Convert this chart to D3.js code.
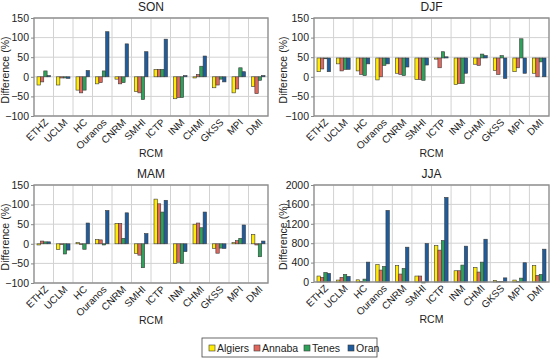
<!DOCTYPE html>
<html>
<head>
<meta charset="utf-8">
<script src="https://cdn.jsdelivr.net/npm/d3@7"></script>
<style>
  body { margin: 0; background: #fff; }
  svg text { font-family: "Liberation Sans", Arial, sans-serif; fill: #222; }
  .grid line { stroke: #d2d2d2; stroke-width: 1; }
  .axis .domain { display: none; }
  .axis line { stroke: #888; }
</style>
</head>
<body>
<div class="chart"></div>
<script>
const rcms = ["ETHZ", "UCLM", "HC", "Ouranos", "CNRM", "SMHI", "ICTP", "INM", "CHMI", "GKSS", "MPI", "DMI"];
const cities = ["Algiers", "Annaba", "Tenes", "Oran"];
const colors = ["#ffec00", "#e1675d", "#2ea25a", "#1e5c9d"];

// one row per city, one value per RCM
const son = [
  [-21, -21, -34, -18, -6, -38, 19, -56, -3, -28, -41, -25],
  [-13, -3, -41, -15, -18, -41, 19, -53, 6, -21, -31, -43],
  [15, -3, -34, 15, -15, -58, 19, -53, 27, -6, 23, -9],
  [3, -4, 16, 115, 84, 64, 96, 3, 53, -13, 13, 3]
];
const djf = [
  [13, 33, 15, -8, 9, -7, 45, -20, 32, 16, 13, 9],
  [20, 15, 6, 0, 6, -7, 23, -17, 29, 6, 23, 0],
  [46, 19, 3, 29, 3, -9, 64, -17, 58, 54, 97, 38],
  [13, 19, 33, 33, 25, 30, 51, 9, 54, -4, 9, 0]
];
const mam = [
  [-3, -15, 3, 11, 52, -25, 114, -50, 50, -12, 3, 24],
  [7, -2, -2, 10, 52, -29, 102, -47, 53, -24, 8, -3],
  [5, -26, -14, -3, 14, -61, 81, -50, 41, -11, 14, -33],
  [5, -16, 53, 85, 79, 26, 111, -20, 81, -12, 48, 7]
];
const jja = [
  [123, 40, 45, 362, 342, 123, 752, 232, 301, 35, 40, 342],
  [96, 96, 8, 246, 164, 123, 657, 232, 205, 10, 12, 137],
  [198, 157, 60, 322, 280, -20, 855, 349, 410, 12, 80, 157],
  [178, 116, 410, 1477, 718, 793, 1744, 739, 882, 85, 397, 677]
];

const smallTicks = [-100, -50, 0, 50, 100, 150];
const jjaTicks = [0, 400, 800, 1200, 1600, 2000];

const panels = [
  {title: "SON", data: son, domain: [-100, 150], ticks: smallTicks, base: 0, x: 34, y: 18, w: 234, h: 98},
  {title: "DJF", data: djf, domain: [-100, 150], ticks: smallTicks, base: 48, x: 314, y: 18, w: 235, h: 98},
  {title: "MAM", data: mam, domain: [-100, 150], ticks: smallTicks, base: 0, x: 34, y: 185, w: 234, h: 98},
  {title: "JJA", data: jja, domain: [0, 2000], ticks: jjaTicks, base: 0, x: 314, y: 185, w: 235, h: 97}
];

let svg = d3.select(".chart").append("svg")
  .attr("width", 550)
  .attr("height", 359);

panels.forEach(p => {

  let g = svg.append("g").attr("transform", "translate(" + p.x + "," + p.y + ")");

  let xScale = d3.scaleBand().domain(rcms).range([0, p.w]);
  let xInner = d3.scaleBand().domain(cities)
    .range([3, xScale.bandwidth() - 3]);
  let yScale = d3.scaleLinear().domain(p.domain).range([p.h, 0]);

  // grid
  let grid = g.append("g").attr("class", "grid");
  grid.selectAll(".hl").data(p.ticks).enter().append("line")
    .attr("x1", 0).attr("x2", p.w)
    .attr("y1", d => yScale(d)).attr("y2", d => yScale(d));
  grid.selectAll(".vl").data(rcms.slice(1)).enter().append("line")
    .attr("x1", d => xScale(d)).attr("x2", d => xScale(d))
    .attr("y1", 0).attr("y2", p.h);

  // bars
  p.data.forEach((series, ci) => {
    g.selectAll(".bar-" + ci)
      .data(series)
      .enter().append("rect")
      .attr("x", (d, i) => xScale(rcms[i]) + xInner(cities[ci]))
      .attr("width", xInner.bandwidth())
      .attr("y", d => yScale(Math.max(d, p.base)))
      .attr("height", d => Math.abs(yScale(d) - yScale(p.base)))
      .attr("fill", colors[ci])
      .attr("stroke", "#3b3b3b")
      .attr("stroke-width", 0.6);
  });

  // frame
  g.append("rect")
    .attr("width", p.w).attr("height", p.h)
    .attr("fill", "none")
    .attr("stroke", "#8d8d8d")
    .attr("stroke-width", 1.4);

  g.append("g")
    .attr("class", "axis")
    .call(d3.axisLeft(yScale).tickValues(p.ticks).tickSize(3).tickPadding(2)
      .tickFormat(d => d < 0 ? "\u2212" + Math.abs(d) : d))
    .selectAll("text")
    .style("font-size", "10.5px");

  g.append("g")
    .selectAll("text")
    .data(rcms)
    .enter().append("text")
    .attr("transform", d => "translate(" + (xScale(d) + xScale.bandwidth() / 2 + 5) + "," + (p.h + 7) + ") rotate(-45)")
    .attr("text-anchor", "end")
    .style("font-size", "10px")
    .text(d => d);

  g.append("text")
    .attr("x", p.w / 2)
    .attr("y", -7)
    .attr("text-anchor", "middle")
    .style("font-size", "12px")
    .text(p.title);

  g.append("text")
    .attr("x", p.w / 2)
    .attr("y", p.h + 41)
    .attr("text-anchor", "middle")
    .style("font-size", "10.5px")
    .text("RCM");

  g.append("text")
    .attr("transform", "translate(" + (p.x === 34 ? -25 : -27) + "," + (p.h / 2 + 3) + ") rotate(-90)")
    .attr("text-anchor", "middle")
    .style("font-size", "10.5px")
    .text("Difference (%)");
});

// legend
let legend = svg.append("g").attr("transform", "translate(202,338)");
legend.append("rect")
  .attr("width", 175).attr("height", 19)
  .attr("fill", "#fff")
  .attr("stroke", "#444")
  .attr("stroke-width", 0.8);

const legendX = [7, 52, 102, 146];
let item = legend.selectAll(".item")
  .data(cities)
  .enter().append("g")
  .attr("transform", (d, i) => "translate(" + legendX[i] + ",0)");
item.append("rect")
  .attr("y", 7).attr("width", 6).attr("height", 6)
  .attr("fill", (d, i) => colors[i])
  .attr("stroke", "#3b3b3b").attr("stroke-width", 0.6);
item.append("text")
  .attr("x", 8).attr("y", 13.5)
  .style("font-size", "10.5px")
  .text(d => d);
</script>
</body>
</html>
